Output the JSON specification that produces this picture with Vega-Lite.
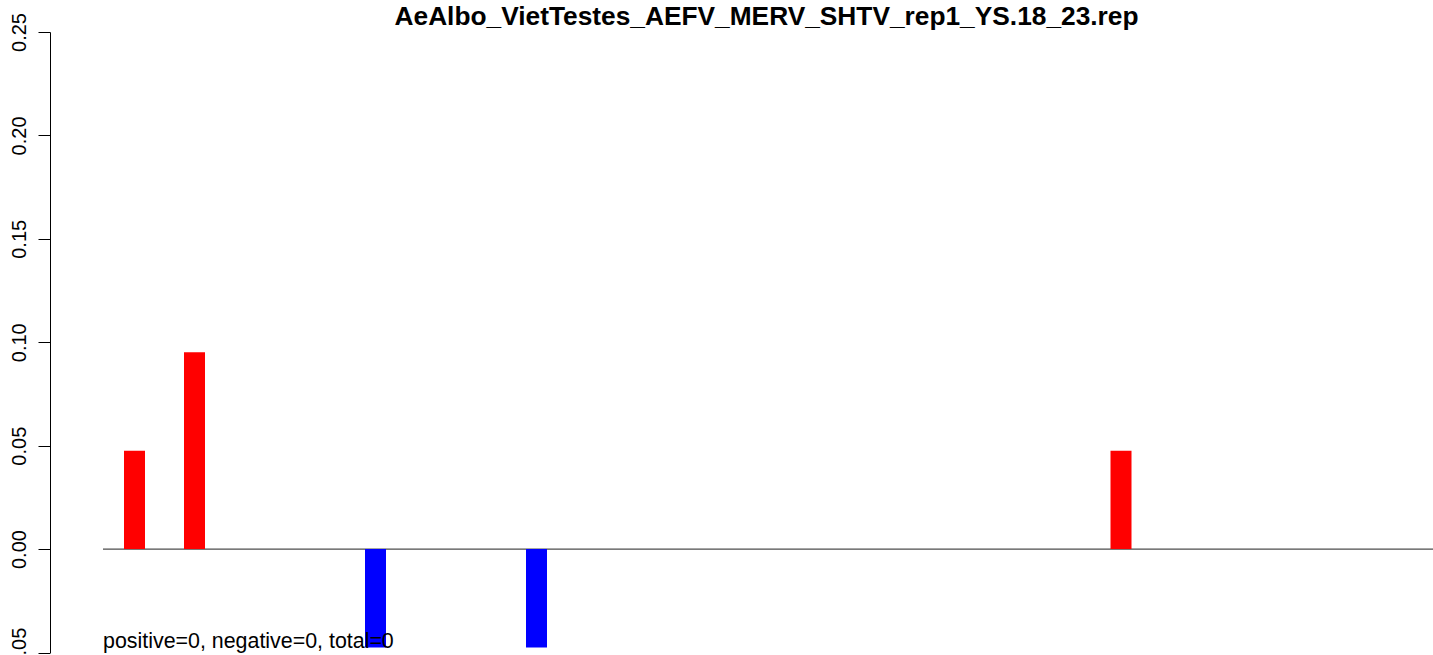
{
  "$schema": "https://vega.github.io/schema/vega-lite/v6.json",
  "width": 1383,
  "height": 620.5,
  "autosize": "none",
  "padding": {"left": 50, "top": 32, "right": 0, "bottom": 2.5},
  "background": "white",
  "config": {"view": {"stroke": null}, "font": "Liberation Sans"},
  "title": {
    "text": "AeAlbo_VietTestes_AEFV_MERV_SHTV_rep1_YS.18_23.rep",
    "font": "Liberation Sans",
    "fontSize": 26.3,
    "fontWeight": "bold",
    "color": "black",
    "anchor": "middle",
    "dx": 25,
    "offset": -18
  },
  "datasets": {
    "bars": [
      {"pos": 84.5, "value": 0.0476, "sign": "positive"},
      {"pos": 144.5, "value": 0.0952, "sign": "positive"},
      {"pos": 325.5, "value": -0.0476, "sign": "negative"},
      {"pos": 486.5, "value": -0.0476, "sign": "negative"},
      {"pos": 1071, "value": 0.0476, "sign": "positive"}
    ],
    "zero": [{"start": 53, "end": 1383, "y": 0}],
    "note": [{"pos": 53, "y": -0.0478, "label": "positive=0, negative=0, total=0"}]
  },
  "layer": [
    {
      "data": {"name": "zero"},
      "mark": {"type": "rule", "color": "#4d4d4d", "strokeWidth": 1.2},
      "encoding": {
        "x": {"field": "start", "type": "quantitative", "scale": {"domain": [0, 1383], "nice": false, "zero": false, "padding": 0}, "axis": null},
        "x2": {"field": "end"},
        "y": {"field": "y", "type": "quantitative"}
      }
    },
    {
      "data": {"name": "bars"},
      "mark": {"type": "bar", "size": 21},
      "encoding": {
        "x": {"field": "pos", "type": "quantitative", "scale": {"domain": [0, 1383], "nice": false, "zero": false, "padding": 0}, "axis": null},
        "y": {
          "field": "value",
          "type": "quantitative",
          "scale": {"domain": [-0.05, 0.25], "nice": false, "padding": 0},
          "axis": {
            "values": [-0.05, 0, 0.05, 0.1, 0.15, 0.2, 0.25],
            "format": ".2f",
            "title": null,
            "grid": false,
            "labelAngle": -90,
            "labelFont": "Liberation Sans",
            "labelFontSize": 20,
            "labelColor": "black",
            "labelPadding": 9,
            "tickSize": 12,
            "tickColor": "black",
            "domainColor": "black",
            "labelOverlap": false,
            "labelBound": false,
            "labelFlush": false
          }
        },
        "color": {
          "field": "sign",
          "type": "nominal",
          "scale": {"domain": ["positive", "negative"], "range": ["#ff0000", "#0000ff"]},
          "legend": null
        }
      }
    },
    {
      "data": {"name": "note"},
      "mark": {"type": "text", "align": "left", "baseline": "alphabetic", "fontSize": 21.4, "font": "Liberation Sans", "color": "black"},
      "encoding": {
        "x": {"field": "pos", "type": "quantitative"},
        "y": {"field": "y", "type": "quantitative"},
        "text": {"field": "label"}
      }
    }
  ]
}
